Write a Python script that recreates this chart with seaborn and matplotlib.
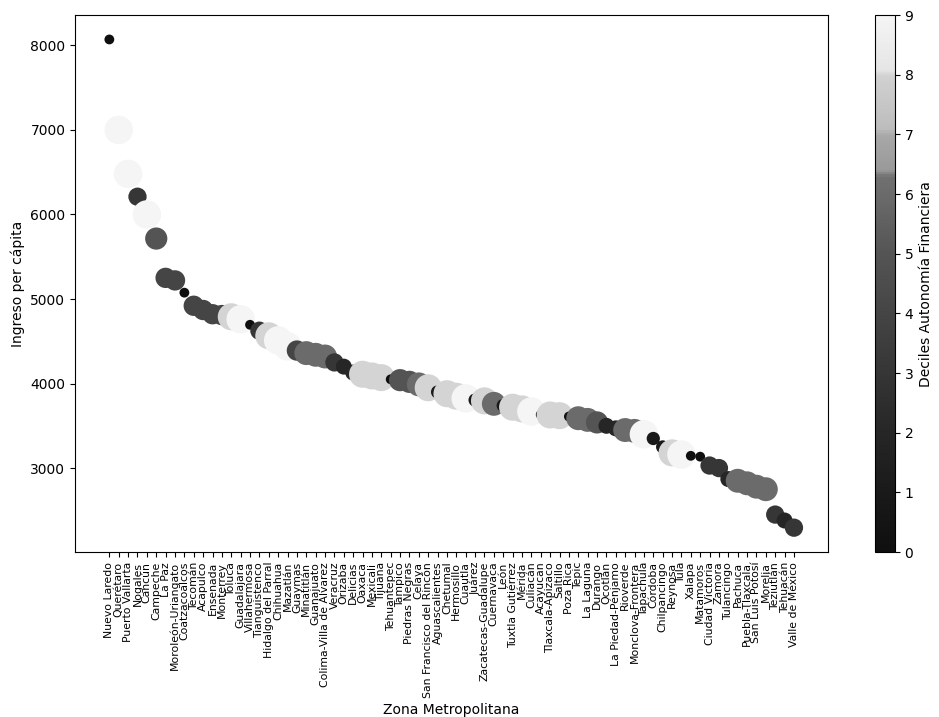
import matplotlib
matplotlib.use("Agg")
import matplotlib.pyplot as plt
from matplotlib.colors import LinearSegmentedColormap, Normalize
from matplotlib.cm import ScalarMappable
import pandas as pd
import seaborn as sns

zonas = [
    "Nuevo Laredo", "Querétaro", "Puerto Vallarta", "Nogales", "Cancún",
    "Campeche", "La Paz", "Moroleón-Uriangato", "Coatzacoalcos", "Tecomán",
    "Acapulco", "Ensenada", "Monterrey", "Toluca", "Guadalajara",
    "Villahermosa", "Tianguistenco", "Hidalgo del Parral", "Chihuahua",
    "Mazatlán", "Guaymas", "Minatitlán", "Guanajuato",
    "Colima-Villa de Álvarez", "Veracruz", "Orizaba", "Delicias", "Oaxaca",
    "Mexicali", "Tijuana", "Tehuantepec", "Tampico", "Piedras Negras",
    "Celaya", "San Francisco del Rincón", "Aguascalientes", "Chetumal",
    "Hermosillo", "Cuautla", "Juárez", "Zacatecas-Guadalupe", "Cuernavaca",
    "León", "Tuxtla Gutiérrez", "Mérida", "Culiacán", "Acayucan",
    "Tlaxcala-Apizaco", "Saltillo", "Poza Rica", "Tepic", "La Laguna",
    "Durango", "Ocotlán", "La Piedad-Pénjamo", "Rioverde",
    "Monclova-Frontera", "Tapachula", "Córdoba", "Chilpancingo", "Reynosa",
    "Tula", "Xalapa", "Matamoros", "Ciudad Victoria", "Zamora", "Tulancingo",
    "Pachuca", "Puebla-Tlaxcala", "San Luis Potosí", "Morelia", "Teziutlán",
    "Tehuacán", "Valle de México",
]

ingreso = [
    8070, 7000, 6480, 6210, 6000, 5715, 5250, 5220, 5075, 4920,
    4870, 4820, 4810, 4790, 4760, 4695, 4625, 4565, 4510, 4440,
    4390, 4360, 4340, 4320, 4250, 4200, 4130, 4110, 4090, 4070,
    4050, 4040, 4020, 3990, 3950, 3900, 3880, 3850, 3825, 3805,
    3795, 3760, 3740, 3720, 3700, 3670, 3632, 3628, 3620, 3610,
    3590, 3570, 3540, 3500, 3470, 3450, 3440, 3400, 3350, 3250,
    3180, 3160, 3145, 3135, 3030, 3000, 2870, 2850, 2820, 2780,
    2750, 2450, 2380, 2295,
]

deciles = [
    0, 9, 9, 3, 9, 5, 4, 4, 0, 4,
    4, 4, 4, 8, 9, 0, 3, 8, 9, 9,
    4, 6, 6, 6, 3, 2, 2, 8, 8, 8,
    0, 5, 5, 6, 8, 1, 8, 8, 9, 1,
    8, 6, 1, 8, 8, 9, 0, 8, 8, 0,
    6, 6, 5, 2, 2, 6, 6, 9, 1, 1,
    8, 9, 0, 0, 3, 3, 2, 6, 6, 6,
    6, 3, 2, 3,
]

df = pd.DataFrame({"Zona": zonas, "Ingreso": ingreso, "Decil": deciles})

# grey ramp that mimics the (posterised) colour bar of the original
stops = [(0.0, 0.06), (1/9, 0.10), (2/9, 0.15), (3/9, 0.21), (4/9, 0.27),
         (5/9, 0.33), (6/9, 0.42), (6.3/9, 0.44), (6.4/9, 0.60), (7/9, 0.66),
         (7.1/9, 0.74), (8/9, 0.82), (8.1/9, 0.90), (1.0, 0.96)]
cmap = LinearSegmentedColormap.from_list("grises", [(p, (g, g, g)) for p, g in stops])
norm = Normalize(vmin=0, vmax=9)

fig = plt.figure(figsize=(9.39, 7.17), dpi=100)
ax = fig.add_axes([0.080, 0.230, 0.802, 0.749])
cax = fig.add_axes([0.932, 0.230, 0.021, 0.749])

sns.scatterplot(
    data=df, x="Zona", y="Ingreso",
    hue="Decil", palette=cmap, hue_norm=norm,
    size="Decil", sizes=(50, 420), size_norm=(0, 9),
    linewidth=0, legend=False, ax=ax,
)

ax.set_xlabel("Zona Metropolitana")
ax.set_ylabel("Ingreso per cápita")
ax.tick_params(axis="x", labelrotation=90, labelsize=7.8)
ax.set_yticks([3000, 4000, 5000, 6000, 7000, 8000])

cb = fig.colorbar(ScalarMappable(norm=norm, cmap=cmap), cax=cax)
cb.set_label("Deciles Autonomía Financiera")
cb.set_ticks(range(10))

fig.savefig("out.png", dpi=100)
